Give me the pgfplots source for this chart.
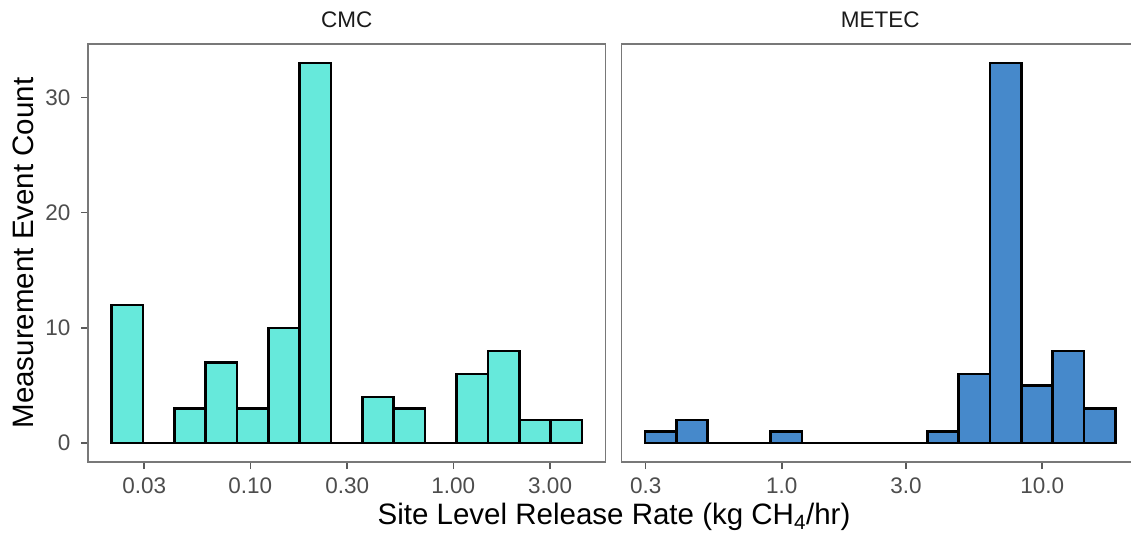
\documentclass[border=0pt]{standalone}
\usepackage{fontspec}
\setmainfont{Liberation Sans}
\usepackage{pgfplots}
\pgfplotsset{compat=1.18}
\usepackage{pgfplotstable}
\definecolor{turq}{RGB}{102,233,219}
\definecolor{sblue}{RGB}{70,137,203}
\definecolor{bordergray}{RGB}{120,120,120}
\definecolor{tickgray}{RGB}{90,90,90}
\definecolor{labgray}{RGB}{77,77,77}
\definecolor{stripgray}{RGB}{26,26,26}

% CMC histogram: bin edges (kg/hr) and counts (last count is a dummy)
\pgfplotstableread{
edge      count
0.020700  12
0.029544  0
0.042175  3
0.060201  7
0.085925  3
0.12265   10
0.17506   33
0.24987   0
0.35665   4
0.50906   3
0.72661   0
1.0371    6
1.4803    8
2.1130    2
3.0160    2
4.3048    0
}\cmcdata

% METEC histogram
\pgfplotstableread{
edge      count
0.29820   1
0.39353   2
0.51932   0
0.68534   0
0.90444   1
1.1936    0
1.5751    0
2.0787    0
2.7432    0
3.6201    1
4.7775    6
6.3048    33
8.3203    5
10.980    8
14.490    3
19.123    0
}\metecdata

\begin{document}
\begin{tikzpicture}[x=1pt,y=1pt]
\begin{axis}[
  scale only axis, width=517.5pt, height=418pt,
  anchor=south west, at={(88pt,73pt)},
  xmode=log,
  xmin=0.015849, xmax=5.6234,
  ymin=-1.65, ymax=34.65,
  tick pos=left, tick align=outside,
  major tick length=7pt,
  minor tick num=0,
  axis line style={draw=bordergray, line width=1.5pt},
  major tick style={draw=tickgray, line width=1.5pt},
  ticklabel style={font=\fontsize{22.5}{27}\selectfont, text=labgray},
  xticklabel style={yshift=-5pt},
  yticklabel style={xshift=-7pt},
  title style={at={(0.5,1)}, anchor=base, yshift=10pt,
    font=\fontsize{22.5}{27}\selectfont, text=stripgray},
  xtick={0.03,0.1,0.3,1,3},
  xticklabels={0.03,0.10,0.30,1.00,3.00},
  ytick={0,10,20,30}, yticklabels={0,10,20,30},
  title={CMC},
]
\addplot[ybar interval, draw=black, line width=2.6pt, fill=turq] table[x=edge, y=count] {\cmcdata};
\end{axis}
\begin{axis}[
  scale only axis, width=517.5pt, height=418pt,
  anchor=south west, at={(621.5pt,73pt)},
  xmode=log,
  xmin=0.24210, xmax=23.55,
  ymin=-1.65, ymax=34.65,
  tick pos=left, tick align=outside,
  major tick length=7pt,
  minor tick num=0,
  axis line style={draw=bordergray, line width=1.5pt},
  major tick style={draw=tickgray, line width=1.5pt},
  ticklabel style={font=\fontsize{22.5}{27}\selectfont, text=labgray},
  xticklabel style={yshift=-5pt},
  title style={at={(0.5,1)}, anchor=base, yshift=10pt,
    font=\fontsize{22.5}{27}\selectfont, text=stripgray},
  xtick={0.3,1,3,10},
  xticklabels={0.3,1.0,3.0,10.0},
  ytick=\empty,
  title={METEC},
]
\addplot[ybar interval, draw=black, line width=2.6pt, fill=sblue] table[x=edge, y=count] {\metecdata};
\end{axis}
\node[anchor=base, font=\fontsize{29.5}{34}\selectfont] at (614pt,10.7pt)
  {Site Level Release Rate (kg CH\textsubscript{4}/hr)};
\node[anchor=base, rotate=90, font=\fontsize{29.5}{34}\selectfont] at (33pt,282pt)
  {Measurement Event Count};
\pgfresetboundingbox
\useasboundingbox (0pt,0pt) rectangle (1131pt,535pt);
\end{tikzpicture}
\end{document}
